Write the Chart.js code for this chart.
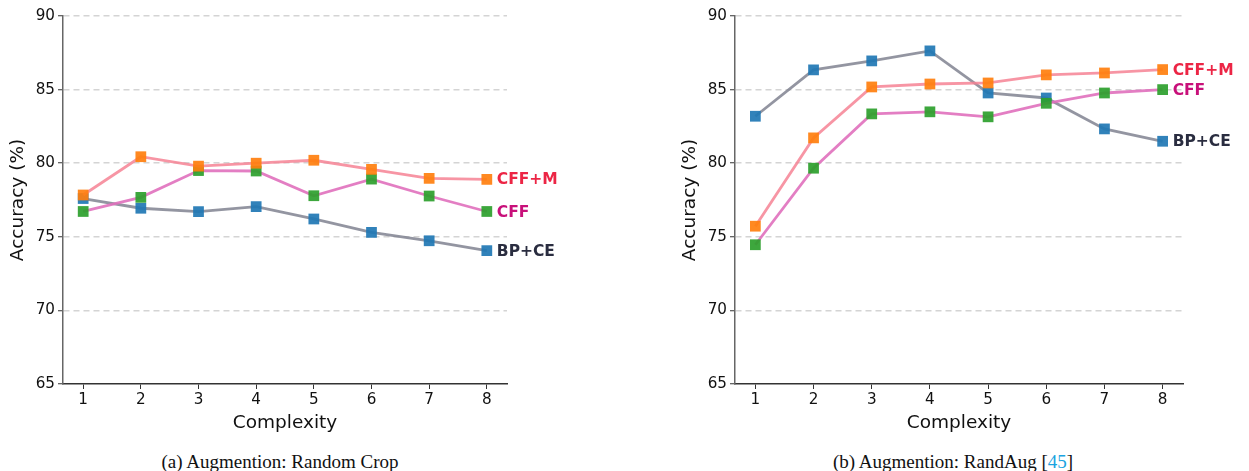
<!DOCTYPE html>
<html>
<head>
<meta charset="utf-8">
<script src="https://cdn.jsdelivr.net/npm/chart.js@4.4.0/dist/chart.umd.min.js"></script>
<style>
  html, body { margin: 0; padding: 0; background: #fff; }
  body { width: 1249px; height: 471px; position: relative; overflow: hidden; }
  canvas { position: absolute; top: 0; }
  #chartCrop { left: 0; }
  #chartRand { left: 672px; }
  .caption {
    position: absolute; top: 451px; line-height: 22px;
    font-family: 'Liberation Serif', 'Times New Roman', serif;
    font-size: 19px; color: #111; text-align: center; width: 400px;
  }
  .caption .ref { color: #1aa3e0; }
</style>
</head>
<body>
<canvas id="chartCrop" width="600" height="440"></canvas>
<canvas id="chartRand" width="577" height="440"></canvas>
<div class="caption" style="left:80px">(a) Augmention: Random Crop</div>
<div class="caption" style="left:753px">(b) Augmention: RandAug [<span class="ref">45</span>]</div>
<script>
  var complexity = [1, 2, 3, 4, 5, 6, 7, 8];
  var yTicks = [65, 70, 75, 80, 85, 90];

  /* (a) Random Crop */
  var cropCffM = [77.84, 80.44, 79.8, 80.0, 80.2, 79.58, 78.97, 78.9];
  var cropCff = [76.72, 77.68, 79.5, 79.47, 77.79, 78.92, 77.77, 76.72];
  var cropBpCe = [77.6, 76.94, 76.71, 77.05, 76.21, 75.3, 74.73, 74.06];

  /* (b) RandAug */
  var randCffM = [75.72, 81.72, 85.18, 85.38, 85.45, 86.0, 86.13, 86.36];
  var randCff = [74.46, 79.66, 83.35, 83.49, 83.15, 84.07, 84.77, 85.0];
  var randBpCe = [83.19, 86.34, 86.95, 87.63, 84.77, 84.43, 82.33, 81.49];

  var FONT = "'DejaVu Sans', sans-serif";

  function pts(vals) {
    return complexity.map(function(c, i) { return { x: c, y: vals[i] }; });
  }

  function series(label, vals, lineColor, markColor, textColor, order) {
    return {
      label: label,
      data: pts(vals),
      borderColor: lineColor,
      borderWidth: 2.8,
      backgroundColor: markColor,
      pointStyle: 'rect',
      pointRadius: 7.6,
      pointHoverRadius: 7.6,
      pointBorderWidth: 0,
      tension: 0,
      order: order,
      endColor: textColor
    };
  }

  /* labels next to the last point of each line */
  var endLabels = {
    id: 'endLabels',
    afterDatasetsDraw: function(chart) {
      var ctx = chart.ctx;
      var xs = chart.scales.x, ys = chart.scales.y;
      ctx.save();
      ctx.font = 'bold 15.5px ' + FONT;
      ctx.textBaseline = 'middle';
      ctx.textAlign = 'left';
      chart.data.datasets.forEach(function(ds) {
        var last = ds.data[ds.data.length - 1];
        ctx.fillStyle = ds.endColor;
        ctx.fillText(ds.label, xs.getPixelForValue(last.x) + 10, ys.getPixelForValue(last.y) + 1);
      });
      ctx.restore();
    }
  };

  function makeChart(id, padRight, cffM, cff, bpCe) {
    return new Chart(document.getElementById(id), {
      type: 'line',
      data: {
        datasets: [
          series('BP+CE', bpCe, 'rgba(128,131,145,0.85)', 'rgba(31,119,180,0.92)', '#2a2d40', 3),
          series('CFF', cff, 'rgba(224,112,188,0.9)', 'rgba(44,160,44,0.92)', '#c8107a', 2),
          series('CFF+M', cffM, 'rgba(246,130,148,0.85)', 'rgba(255,127,14,0.92)', '#ec2545', 1)
        ]
      },
      options: {
        responsive: false,
        animation: false,
        layout: { padding: { top: 16, right: padRight, left: 0, bottom: 0 } },
        plugins: { legend: { display: false }, tooltip: { enabled: false } },
        scales: {
          x: {
            type: 'linear',
            min: 0.65,
            max: 8.35,
            afterBuildTicks: function(scale) {
              scale.ticks = complexity.map(function(v) { return { value: v }; });
            },
            afterFit: function(scale) { scale.height = 56; },
            ticks: {
              font: { family: FONT, size: 15.2 },
              color: '#111',
              padding: 2,
              maxRotation: 0,
              callback: function(v) { return String(v); }
            },
            grid: { drawOnChartArea: false, drawTicks: true, tickLength: 5, tickColor: '#333', tickWidth: 1 },
            border: { display: true, color: '#333', width: 1.5 },
            title: {
              display: true,
              text: 'Complexity',
              font: { family: FONT, size: 18.5 },
              color: '#111',
              padding: { top: 0, bottom: 6 }
            }
          },
          y: {
            min: 65,
            max: 90,
            afterBuildTicks: function(scale) {
              scale.ticks = yTicks.map(function(v) { return { value: v }; });
            },
            afterFit: function(scale) { scale.width = 63; },
            ticks: {
              font: { family: FONT, size: 15.2 },
              color: '#111',
              padding: 3
            },
            grid: {
              color: function(c) { return c.tick && c.tick.value === 65 ? 'rgba(0,0,0,0)' : '#d4d4d4'; },
              lineWidth: 1.5,
              tickLength: 5,
              tickColor: '#333',
              tickWidth: 1,
              tickBorderDash: []
            },
            border: { display: true, color: '#666', width: 1.5, dash: [6, 4] },
            title: {
              display: true,
              text: 'Accuracy (%)',
              font: { family: FONT, size: 18.5 },
              color: '#111',
              padding: { top: 7, bottom: 0 }
            }
          }
        }
      },
      plugins: [endLabels]
    });
  }

  makeChart('chartCrop', 93, cropCffM, cropCff, cropBpCe);
  makeChart('chartRand', 66, randCffM, randCff, randBpCe);
</script>
</body>
</html>
